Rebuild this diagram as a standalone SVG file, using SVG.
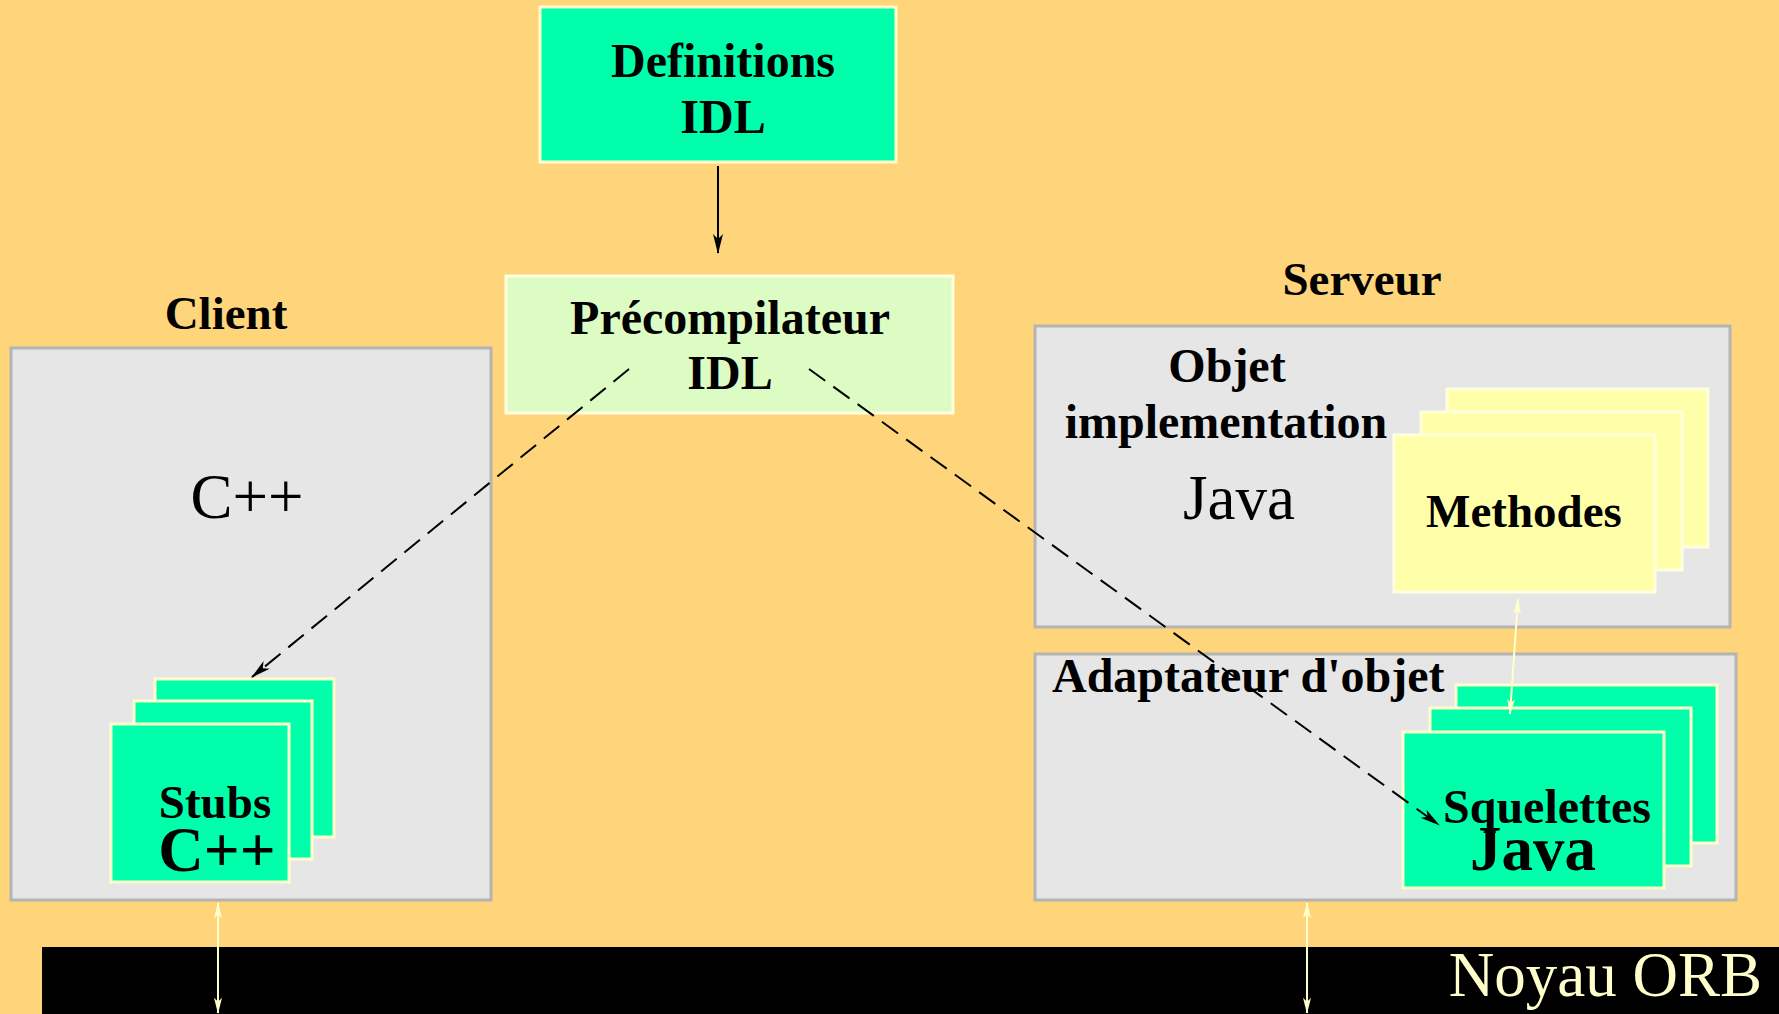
<svg xmlns="http://www.w3.org/2000/svg" width="1779" height="1014" viewBox="0 0 1779 1014">
<defs>
<style>
.bg{fill:#FFD57B}
.grey{fill:#E6E6E6;stroke:#B4B4B4;stroke-width:3}
.green{fill:#00FFAA;stroke:#FFFFCC;stroke-width:3}
.yellow{fill:#FFFFAA;stroke:#FFFFDD;stroke-width:3}
.pale{fill:#DDFCC4;stroke:#FFFFE0;stroke-width:3}
.b{font-family:"Liberation Serif","Times New Roman",serif;font-weight:bold;fill:#000}
.r{font-family:"Liberation Serif","Times New Roman",serif;fill:#000}
.blk{stroke:#000;stroke-width:2;fill:none}
.dash{stroke:#000;stroke-width:2;fill:none;stroke-dasharray:20 10}
.lt{stroke:#FFFFCC;stroke-width:2;fill:none}
</style>
<marker id="ab" viewBox="0 0 20 10" refX="19" refY="5" markerWidth="20" markerHeight="10" markerUnits="userSpaceOnUse" orient="auto">
<path d="M0,0 L20,5 L0,10 L5,5 z" fill="#000"/>
</marker>
<marker id="ay" viewBox="0 0 20 10" refX="19" refY="5" markerWidth="20" markerHeight="8" markerUnits="userSpaceOnUse" orient="auto-start-reverse">
<path d="M0,0 L20,5 L0,10 L5,5 z" fill="#FFFFCC"/>
</marker>
</defs>
<rect class="bg" x="0" y="0" width="1779" height="1014"/>

<g id="orb">
<rect x="42" y="947" width="1737" height="67" fill="#000"/>
<text class="r" x="1762" y="996" font-size="63" text-anchor="end" style="fill:#FFFFCC">Noyau ORB</text>
</g>

<g id="definitions">
<rect class="green" x="540" y="7" width="356" height="155"/>
<text class="b" x="723" y="77" font-size="48" text-anchor="middle">Definitions</text>
<text class="b" x="723" y="133" font-size="48" text-anchor="middle">IDL</text>
</g>

<g id="precompilateur">
<rect class="pale" x="506" y="276" width="447" height="137"/>
<text class="b" x="730" y="334" font-size="48" text-anchor="middle">Précompilateur</text>
<text class="b" x="730" y="389" font-size="48" text-anchor="middle">IDL</text>
</g>

<g id="client">
<text class="b" x="226" y="329" font-size="47" text-anchor="middle">Client</text>
<rect class="grey" x="11" y="348" width="480" height="552"/>
<text class="r" x="247" y="518" font-size="63" text-anchor="middle">C++</text>
</g>

<g id="stubs">
<rect class="green" x="155" y="679" width="179" height="158"/>
<rect class="green" x="134" y="701" width="178" height="158"/>
<rect class="green" x="111" y="724" width="178" height="158"/>
<text class="b" x="215" y="818" font-size="47" text-anchor="middle">Stubs</text>
<text class="b" x="217" y="871" font-size="63" text-anchor="middle">C++</text>
</g>

<g id="serveur">
<text class="b" x="1362" y="295" font-size="47" text-anchor="middle">Serveur</text>
<rect class="grey" x="1035" y="326" width="695" height="301"/>
<text class="b" x="1227" y="382" font-size="48" text-anchor="middle">Objet</text>
<text class="b" x="1226" y="438" font-size="48" text-anchor="middle">implementation</text>
<text class="r" x="1239" y="519" font-size="63" text-anchor="middle">Java</text>
</g>

<g id="methodes">
<rect class="yellow" x="1447" y="389" width="261" height="158"/>
<rect class="yellow" x="1421" y="412" width="261" height="158"/>
<rect class="yellow" x="1394" y="435" width="261" height="157"/>
<text class="b" x="1524" y="527" font-size="47" text-anchor="middle">Methodes</text>
</g>

<g id="adaptateur">
<rect class="grey" x="1035" y="654" width="701" height="246"/>
<text class="b" x="1052" y="692" font-size="48">Adaptateur d'objet</text>
</g>

<g id="squelettes">
<rect class="green" x="1456" y="685" width="261" height="158"/>
<rect class="green" x="1430" y="708" width="261" height="158"/>
<rect class="green" x="1403" y="732" width="261" height="156"/>
<text class="b" x="1547" y="823" font-size="48" text-anchor="middle">Squelettes</text>
<text class="b" x="1533" y="870" font-size="63" text-anchor="middle">Java</text>
</g>

<g id="connectors">
<line class="blk" x1="718" y1="166" x2="718" y2="253" marker-end="url(#ab)"/>
<line class="dash" x1="629" y1="369" x2="252" y2="677" marker-end="url(#ab)"/>
<line class="dash" x1="809" y1="369" x2="1439" y2="825" marker-end="url(#ab)"/>
<line class="lt" x1="1518" y1="599" x2="1510" y2="714" marker-start="url(#ay)" marker-end="url(#ay)"/>
<line class="lt" x1="218" y1="903" x2="218" y2="1013" marker-start="url(#ay)" marker-end="url(#ay)"/>
<line class="lt" x1="1307" y1="903" x2="1307" y2="1013" marker-start="url(#ay)" marker-end="url(#ay)"/>
</g>
</svg>
